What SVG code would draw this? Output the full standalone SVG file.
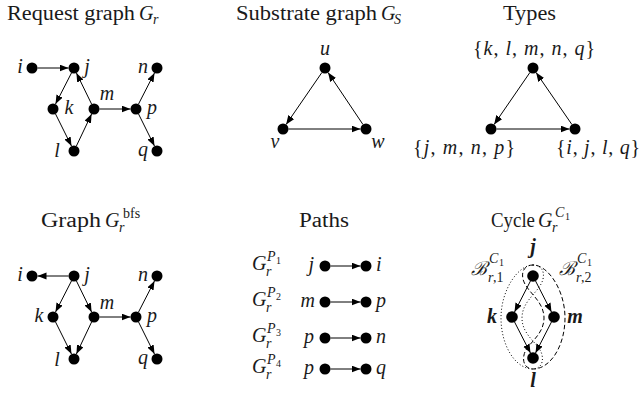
<svg xmlns="http://www.w3.org/2000/svg" width="642" height="398" viewBox="0 0 642 398" font-family="Liberation Serif, Times New Roman, serif">
<defs>
<marker id="ah" markerUnits="userSpaceOnUse" markerWidth="10" markerHeight="8" refX="9" refY="3.5" orient="auto"><path d="M0,0 L9,3.5 L0,7 Z" fill="#000"/></marker>
</defs>
<style>
text,tspan{font-family:'Liberation Serif','Times New Roman',serif;fill:#1a1a1a}
.tt{font-size:20px}
.mi{font-style:italic;font-size:20px}
.sm{font-size:14px}
.smi{font-style:italic;font-size:14px}
.xs{font-size:10px}
.lb{font-style:italic;font-size:20px;text-anchor:middle}
.le{font-style:italic;font-size:20px;text-anchor:end}
.ls{font-style:italic;font-size:20px;text-anchor:start}
.bd{font-weight:bold}
.scr{font-family:'DejaVu Serif',serif;font-style:italic;font-size:19px}
.e line{stroke:#000;stroke-width:1;marker-end:url(#ah)}
circle{fill:#000}
.dot{fill:none;stroke:#000;stroke-width:1;stroke-dasharray:1 2.2}
.dash{fill:none;stroke:#000;stroke-width:1;stroke-dasharray:4.5 2.5}
</style>

<g id="titles">
<text class="tt" x="7" y="20" textLength="128" lengthAdjust="spacingAndGlyphs">Request graph</text>
<text class="mi" x="139" y="20">G</text><text class="smi" x="153" y="24">r</text>
<text class="tt" x="236" y="20" textLength="141" lengthAdjust="spacingAndGlyphs">Substrate graph</text>
<text class="mi" x="381" y="20">G</text><text class="smi" x="394" y="24">S</text>
<text class="tt" x="503" y="20" textLength="53" lengthAdjust="spacingAndGlyphs">Types</text>
<text class="tt" x="41" y="227" textLength="60" lengthAdjust="spacingAndGlyphs">Graph</text>
<text class="mi" x="105" y="227">G</text><text class="smi" x="119" y="232">r</text><text class="sm" x="123" y="218">bfs</text>
<text class="tt" x="299" y="227" textLength="50" lengthAdjust="spacingAndGlyphs">Paths</text>
<text class="tt" x="491" y="227" textLength="44" lengthAdjust="spacingAndGlyphs">Cycle</text>
<text class="mi" x="538" y="227">G</text><text class="smi" x="552" y="232">r</text><text class="smi" x="555" y="217">C</text><text class="xs" x="565" y="220">1</text>
</g>

<g id="connectors" class="e">
<line x1="37.5" y1="68" x2="68.5" y2="68"/>
<line x1="71.5" y1="72.9" x2="55.5" y2="104.1"/>
<line x1="55.5" y1="113.9" x2="71.5" y2="146.1"/>
<line x1="76.4" y1="146" x2="91.6" y2="114"/>
<line x1="91.6" y1="104.1" x2="76.4" y2="72.9"/>
<line x1="99.5" y1="109" x2="130.5" y2="109"/>
<line x1="138.5" y1="104.1" x2="154.5" y2="72.9"/>
<line x1="138.5" y1="113.9" x2="154.5" y2="146.1"/>
<line x1="321.9" y1="72.5" x2="286.1" y2="124.5"/>
<line x1="288.5" y1="129" x2="360.5" y2="129"/>
<line x1="362.9" y1="124.4" x2="328.1" y2="72.6"/>
<line x1="529.9" y1="72.5" x2="494.1" y2="124.5"/>
<line x1="496.5" y1="129" x2="569.5" y2="129"/>
<line x1="571.9" y1="124.5" x2="536.1" y2="72.5"/>
<line x1="68.5" y1="276" x2="37.5" y2="276"/>
<line x1="71.5" y1="280.9" x2="55.5" y2="312.1"/>
<line x1="76.4" y1="280.9" x2="91.6" y2="312.1"/>
<line x1="55.5" y1="321.9" x2="71.5" y2="354.1"/>
<line x1="91.6" y1="322" x2="76.4" y2="354"/>
<line x1="99.5" y1="317" x2="130.5" y2="317"/>
<line x1="138.5" y1="312.1" x2="154.5" y2="280.9"/>
<line x1="138.5" y1="321.9" x2="154.5" y2="354.1"/>
<line x1="330.5" y1="266" x2="360.5" y2="266"/>
<line x1="330.5" y1="302" x2="360.5" y2="302"/>
<line x1="330.5" y1="338" x2="360.5" y2="338"/>
<line x1="330.5" y1="369" x2="360.5" y2="369"/>
<line x1="530.5" y1="280.9" x2="514.5" y2="312.1"/>
<line x1="535.5" y1="280.9" x2="551.5" y2="312.1"/>
<line x1="514.5" y1="321.9" x2="530.5" y2="353.1"/>
<line x1="551.5" y1="321.9" x2="535.5" y2="353.1"/>
</g>

<g id="bag1">
<path class="dot" d="M533,265 C540,265 545,270 543,279 C540,292 522,300 522,318 C522,336 540,344 542,355 C544,364 539,369 533,369 C515,369 501,345 501,318 C501,290 518,265 533,265 Z"/>
<text class="scr" x="471" y="275">ℬ</text>
<text class="smi" x="488" y="282">r</text><text class="sm" x="493" y="282">,1</text>
<text class="smi" x="489" y="263">C</text><text class="xs" x="499" y="266">1</text>
</g>
<g id="bag2">
<path class="dash" d="M533,265 C526,265 521,270 523,279 C526,292 544,300 544,318 C544,336 526,344 524,355 C522,364 527,369 533,369 C551,369 565,345 565,318 C565,290 548,265 533,265 Z"/>
<text class="scr" x="559" y="275">ℬ</text>
<text class="smi" x="576" y="282">r</text><text class="sm" x="581" y="282">,2</text>
<text class="smi" x="577" y="263">C</text><text class="xs" x="587" y="266">1</text>
</g>

<g id="r-i"><circle cx="32" cy="68" r="5.5"/><text class="lb" x="20" y="73">i</text></g>
<g id="r-j"><circle cx="74" cy="68" r="5.5"/><text class="lb" x="87" y="73">j</text></g>
<g id="r-k"><circle cx="53" cy="109" r="5.5"/><text class="lb" x="69" y="114">k</text></g>
<g id="r-m"><circle cx="94" cy="109" r="5.5"/><text class="lb" x="107" y="100">m</text></g>
<g id="r-p"><circle cx="136" cy="109" r="5.5"/><text class="lb" x="152" y="114">p</text></g>
<g id="r-n"><circle cx="157" cy="68" r="5.5"/><text class="lb" x="143" y="73">n</text></g>
<g id="r-l"><circle cx="74" cy="151" r="5.5"/><text class="lb" x="57" y="157">l</text></g>
<g id="r-q"><circle cx="157" cy="151" r="5.5"/><text class="lb" x="143" y="156">q</text></g>

<g id="s-u"><circle cx="325" cy="68" r="5.5"/><text class="lb" x="325" y="55">u</text></g>
<g id="s-v"><circle cx="283" cy="129" r="5.5"/><text class="lb" x="275" y="148">v</text></g>
<g id="s-w"><circle cx="366" cy="129" r="5.5"/><text class="lb" x="378" y="148">w</text></g>

<g id="t-top"><circle cx="533" cy="68" r="5.5"/>
<text class="tt" x="473" y="55" textLength="122" lengthAdjust="spacing">{<tspan class="mi">k</tspan>, <tspan class="mi">l</tspan>, <tspan class="mi">m</tspan>, <tspan class="mi">n</tspan>, <tspan class="mi">q</tspan>}</text></g>
<g id="t-left"><circle cx="491" cy="129" r="5.5"/>
<text class="tt" x="413" y="154" textLength="102" lengthAdjust="spacing">{<tspan class="mi">j</tspan>, <tspan class="mi">m</tspan>, <tspan class="mi">n</tspan>, <tspan class="mi">p</tspan>}</text></g>
<g id="t-right"><circle cx="575" cy="129" r="5.5"/>
<text class="tt" x="556" y="154" textLength="84" lengthAdjust="spacing">{<tspan class="mi">i</tspan>, <tspan class="mi">j</tspan>, <tspan class="mi">l</tspan>, <tspan class="mi">q</tspan>}</text></g>

<g id="b-i"><circle cx="32" cy="276" r="5.5"/><text class="lb" x="20" y="281">i</text></g>
<g id="b-j"><circle cx="74" cy="276" r="5.5"/><text class="lb" x="87" y="281">j</text></g>
<g id="b-n"><circle cx="157" cy="276" r="5.5"/><text class="lb" x="143" y="281">n</text></g>
<g id="b-k"><circle cx="53" cy="317" r="5.5"/><text class="lb" x="39" y="322">k</text></g>
<g id="b-m"><circle cx="94" cy="317" r="5.5"/><text class="lb" x="107" y="309">m</text></g>
<g id="b-p"><circle cx="136" cy="317" r="5.5"/><text class="lb" x="152" y="322">p</text></g>
<g id="b-l"><circle cx="74" cy="359" r="5.5"/><text class="lb" x="57" y="366">l</text></g>
<g id="b-q"><circle cx="157" cy="359" r="5.5"/><text class="lb" x="143" y="364">q</text></g>

<g id="p1-label"><text class="mi" x="252" y="270">G</text><text class="smi" x="266" y="276">r</text><text class="smi" x="267" y="261">P</text><text class="xs" x="276" y="264">1</text></g>
<g id="p1-a"><circle cx="325" cy="266" r="5.5"/><text class="le" x="314" y="271">j</text></g>
<g id="p1-b"><circle cx="366" cy="266" r="5.5"/><text class="ls" x="376" y="271">i</text></g>
<g id="p2-label"><text class="mi" x="252" y="306">G</text><text class="smi" x="266" y="312">r</text><text class="smi" x="267" y="297">P</text><text class="xs" x="276" y="300">2</text></g>
<g id="p2-a"><circle cx="325" cy="302" r="5.5"/><text class="le" x="315" y="307">m</text></g>
<g id="p2-b"><circle cx="366" cy="302" r="5.5"/><text class="ls" x="376" y="307">p</text></g>
<g id="p3-label"><text class="mi" x="252" y="342">G</text><text class="smi" x="266" y="348">r</text><text class="smi" x="267" y="333">P</text><text class="xs" x="276" y="336">3</text></g>
<g id="p3-a"><circle cx="325" cy="338" r="5.5"/><text class="le" x="314" y="343">p</text></g>
<g id="p3-b"><circle cx="366" cy="338" r="5.5"/><text class="ls" x="376" y="343">n</text></g>
<g id="p4-label"><text class="mi" x="252" y="373">G</text><text class="smi" x="266" y="379">r</text><text class="smi" x="267" y="364">P</text><text class="xs" x="276" y="367">4</text></g>
<g id="p4-a"><circle cx="325" cy="369" r="5.5"/><text class="le" x="314" y="374">p</text></g>
<g id="p4-b"><circle cx="366" cy="369" r="5.5"/><text class="ls" x="376" y="374">q</text></g>

<g id="c-j"><circle cx="533" cy="276" r="5.8"/><text class="lb bd" x="533" y="253">j</text></g>
<g id="c-k"><circle cx="512" cy="317" r="5.8"/><text class="lb bd" x="492" y="323">k</text></g>
<g id="c-m"><circle cx="554" cy="317" r="5.8"/><text class="lb bd" x="575" y="323">m</text></g>
<g id="c-l"><circle cx="533" cy="358" r="5.8"/><text class="lb bd" x="533" y="387">l</text></g>
</svg>
